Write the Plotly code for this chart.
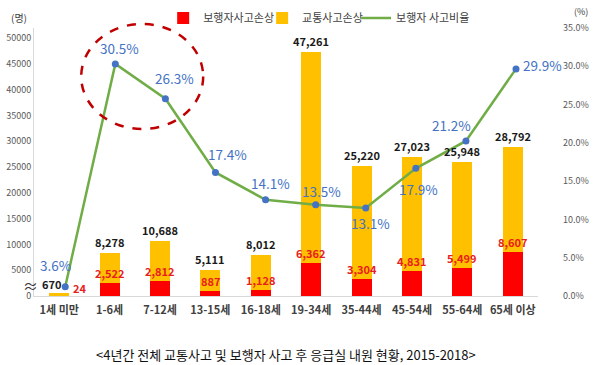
import plotly.graph_objects as go

categories = ['1세 미만', '1-6세', '7-12세', '13-15세', '16-18세', '19-34세', '35-44세', '45-54세', '55-64세', '65세 이상']
total_injury = [670, 8278, 10688, 5111, 8012, 47261, 25220, 27023, 25948, 28792]
pedestrian_injury = [24, 2522, 2812, 887, 1128, 6362, 3304, 4831, 5499, 8607]
pedestrian_rate = [3.6, 30.5, 26.3, 17.4, 14.1, 13.5, 13.1, 17.9, 21.2, 29.9]
left_ticks = [0, 5000, 10000, 15000, 20000, 25000, 30000, 35000, 40000, 45000, 50000]
right_ticks = [0, 5, 10, 15, 20, 25, 30, 35]

# label offsets (pixels) for the percentage labels
pct_offsets = [(-10, 22), (4, 16), (9, 21), (12, 18), (5, 17), (6, 14), (5, -15), (3, -21), (-14, 16), (26, 4)]

FONT = "Noto Sans CJK KR"
other = [t - p for t, p in zip(total_injury, pedestrian_injury)]

fig = go.Figure()
fig.add_trace(go.Bar(x=categories, y=pedestrian_injury, name='보행자사고손상',
                     marker=dict(color='#FF0000', line=dict(width=0)), xaxis='x', yaxis='y',
                     legend='legend'))
fig.add_trace(go.Bar(x=categories, y=other, name='교통사고손상',
                     marker=dict(color='#FFC000', line=dict(width=0)), xaxis='x', yaxis='y',
                     legend='legend3'))
fig.add_trace(go.Scatter(x=list(range(len(categories))), y=pedestrian_rate, name='보행자 사고비율',
                         mode='lines+markers', line=dict(color='#70AD47', width=2.5),
                         marker=dict(color='#4472C4', size=7), xaxis='x2', yaxis='y3',
                         showlegend=False, legendgroup='rate'))
# legend entry for the line (line only, no marker)
fig.add_trace(go.Scatter(x=[None], y=[None], name='보행자 사고비율', mode='lines',
                         line=dict(color='#70AD47', width=2.5), xaxis='x2', yaxis='y3',
                         legendgroup='rate', hoverinfo='skip', legend='legend2'))

ann = []
for i, c in enumerate(categories):
    if i == 0:
        ann.append(dict(x=c, y=total_injury[i], xref='x', yref='y', text=f"{total_injury[i]:,}",
                        showarrow=False, xshift=-8, yshift=9, xanchor='center', yanchor='middle',
                        font=dict(family=FONT, size=11, color='#1a1a1a', weight='bold')))
        ann.append(dict(x=c, y=pedestrian_injury[i], xref='x', yref='y', text=f"{pedestrian_injury[i]:,}",
                        showarrow=False, xshift=20, yshift=8, xanchor='center', yanchor='middle',
                        font=dict(family=FONT, size=11, color='#E8201C', weight='bold')))
    else:
        ann.append(dict(x=c, y=total_injury[i], xref='x', yref='y', text=f"{total_injury[i]:,}",
                        showarrow=False, yshift=1, xanchor='center', yanchor='bottom',
                        font=dict(family=FONT, size=11, color='#1a1a1a', weight='bold')))
        ann.append(dict(x=c, y=pedestrian_injury[i], xref='x', yref='y', text=f"{pedestrian_injury[i]:,}",
                        showarrow=False, yshift=0, xanchor='center', yanchor='bottom',
                        font=dict(family=FONT, size=11, color='#E8201C', weight='bold')))
for i, v in enumerate(pedestrian_rate):
    dx, dy = pct_offsets[i]
    ann.append(dict(x=i, y=v, xref='x2', yref='y3', text=f"{v:.1f}%", showarrow=False,
                    xshift=dx, yshift=dy, xanchor='center', yanchor='middle',
                    font=dict(family=FONT, size=13.5, color='#4472C4')))

ann += [
    dict(x=-0.029, y=1.041, xref='paper', yref='paper', text='(명)', showarrow=False,
         xanchor='center', yanchor='middle', font=dict(family=FONT, size=10, color='#404040')),
    dict(x=1.085, y=1.06, xref='paper', yref='paper', text='(%)', showarrow=False,
         xanchor='center', yanchor='middle', font=dict(family=FONT, size=9, color='#404040')),
    dict(x=-0.0074, y=0.041, xref='paper', yref='paper', text='≈', showarrow=False,
         xanchor='center', yanchor='middle', font=dict(family=FONT, size=15, color='#333333')),
    dict(x=0.5, y=-0.22, xref='paper', yref='paper', text='<4년간 전체 교통사고 및 보행자 사고 후 응급실 내원 현황, 2015-2018>',
         showarrow=False, xanchor='center', yanchor='middle', font=dict(family=FONT, size=13, color='#111111')),
]

legend_common = dict(orientation='h', y=1.037, xanchor='left', yanchor='middle', traceorder='normal',
                     font=dict(family=FONT, size=11, color='#404040'), bgcolor='rgba(0,0,0,0)',
                     itemwidth=30, tracegroupgap=0)

fig.update_layout(
    width=600, height=365,
    margin=dict(l=34, r=62, t=28, b=69, autoexpand=False),
    paper_bgcolor='white', plot_bgcolor='white',
    barmode='stack', bargap=0.6,
    font=dict(family=FONT),
    showlegend=True,
    legend=dict(x=0.2563, **legend_common),
    legend3=dict(x=0.4526, **legend_common),
    legend2=dict(x=0.6390, **legend_common),
    xaxis=dict(type='category', range=[-0.5, 9.5], showgrid=False, showline=True, linecolor='#D9D9D9',
               linewidth=1, ticks='', tickfont=dict(family=FONT, size=11, color='#404040', weight='bold'),
               ticklabelstandoff=4),
    xaxis2=dict(type='linear', overlaying='x', range=[-0.6236, 9.439], visible=False),
    yaxis=dict(range=[0, 51938], tickvals=left_ticks, ticktext=[str(t) for t in left_ticks],
               showgrid=False, showline=True, linecolor='#D9D9D9', zeroline=False,
               tickfont=dict(family=FONT, size=9, color='#595959'), ticks=''),
    yaxis2=dict(overlaying='y', side='right', range=[0, 35], tickvals=right_ticks,
                ticktext=[f"{t:.1f}%" for t in right_ticks], showgrid=False, showline=False,
                zeroline=False, tickfont=dict(family=FONT, size=9, color='#595959'), ticks='',
                ticklabelstandoff=24),
    yaxis3=dict(overlaying='y', range=[2.48, 34.84], visible=False),
    annotations=ann,
    shapes=[dict(type='circle', xref='paper', yref='paper', x0=0.0937, x1=0.3357, y0=0.623, y1=1.015,
                 line=dict(color='#C00000', width=2.5, dash='dash'))],
)
# dummy trace to keep yaxis2 drawn
fig.add_trace(go.Scatter(x=[None], y=[None], xaxis='x', yaxis='y2', showlegend=False, hoverinfo='skip'))

fig.write_html("out.html", config={'displayModeBar': False},
               post_script="document.body.style.margin='0';")
